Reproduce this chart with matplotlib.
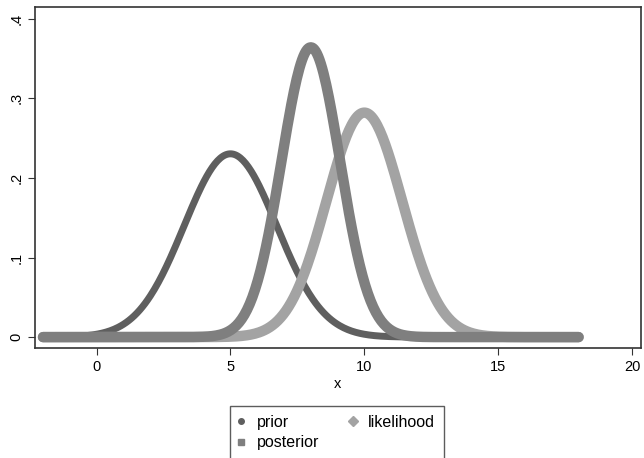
import numpy as np
import matplotlib.pyplot as plt
from matplotlib.lines import Line2D

plt.rcParams['font.family'] = ['Liberation Sans', 'DejaVu Sans']

# normal densities: peak heights give the spreads
names = ['prior', 'likelihood', 'posterior']
means = [5.0, 10.0, 8.0]
variances = [3.0, 2.0, 1.2]
colors = ['#5f5f5f', '#a3a3a3', '#7f7f7f']
widths = [5, 7.5, 7.5]
markers = ['o', 'D', 's']
x_range = [-2, 18]

x = np.linspace(x_range[0], x_range[1], 400)

fig = plt.figure(figsize=(6.44, 4.58), dpi=100)
ax = fig.add_axes([0.0543, 0.240, 0.941, 0.745])

for m, v, c, w in zip(means, variances, colors, widths):
    y = np.exp(-(x - m) ** 2 / (2 * v)) / np.sqrt(2 * np.pi * v)
    ax.plot(x, y, color=c, lw=w, solid_capstyle='round', solid_joinstyle='round')

ax.set_xlim(-2.3, 20.33)
ax.set_ylim(-0.0138, 0.415)
ax.set_xticks([0, 5, 10, 15, 20])
ax.set_yticks([0, 0.1, 0.2, 0.3, 0.4])
ax.set_yticklabels(['0', '.1', '.2', '.3', '.4'], rotation=90, va='center')
ax.tick_params(labelsize=10.5, length=5, width=0.8, color='#333333')
ax.set_xlabel('x', fontsize=10.5, labelpad=2)
for s in ax.spines.values():
    s.set_color('#333333')
    s.set_linewidth(1.2)

handles = [Line2D([], [], ls='none', marker=markers[0], ms=4, color=colors[0]),
           Line2D([], [], ls='none', marker=markers[2], ms=5, color=colors[2]),
           Line2D([], [], ls='none', marker=markers[1], ms=5, color=colors[1])]
labels = ['prior', 'posterior', 'likelihood']
leg = fig.legend(handles, labels, ncol=2, loc='upper center',
                 bbox_to_anchor=(0.5235, 0.1135), borderaxespad=0,
                 fontsize=11.5, frameon=True, fancybox=False,
                 edgecolor='#333333', handlelength=0.3, handletextpad=0.8,
                 columnspacing=2.0, borderpad=0.55, labelspacing=0.35)
leg.get_frame().set_linewidth(1.0)

fig.savefig('out.png', dpi=100)
